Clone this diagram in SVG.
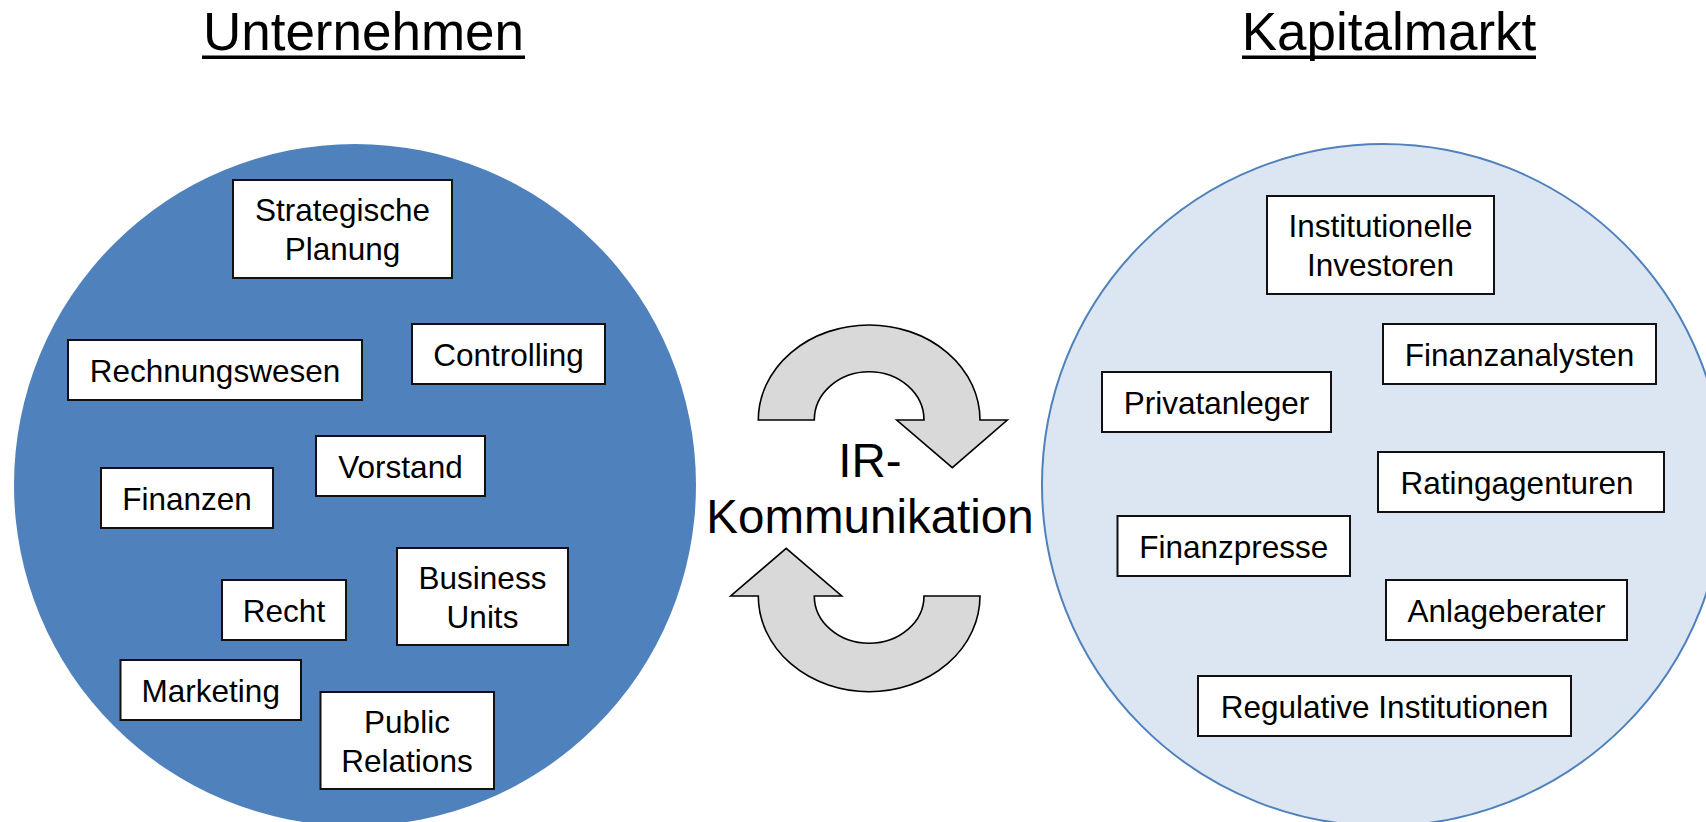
<svg xmlns="http://www.w3.org/2000/svg" width="1706" height="822" viewBox="0 0 1706 822">
  <style>
    text { font-family: "Liberation Sans", Arial, sans-serif; fill: #000; }
    .title { font-size: 53px; text-anchor: middle; }
    .box rect { fill: #fff; stroke: #111; stroke-width: 2; }
    .box text { font-size: 31.5px; text-anchor: middle; }
    .center { font-size: 47.5px; text-anchor: middle; }
    .cycle { fill: #D9D9D9; stroke: #000; stroke-width: 1.6; stroke-linejoin: miter; }
  </style>

  <!-- Headings -->
  <g id="title-unternehmen">
    <text class="title" x="363.5" y="50">Unternehmen</text>
    <rect x="202" y="55.5" width="323" height="3.5" fill="#000"/>
  </g>
  <g id="title-kapitalmarkt">
    <text class="title" x="1389" y="50">Kapitalmarkt</text>
    <rect x="1242" y="55.5" width="294" height="3.5" fill="#000"/>
  </g>

  <!-- Two spheres -->
  <g id="sphere-unternehmen">
    <circle cx="355" cy="485" r="341" fill="#4F81BD"/>
  </g>
  <g id="sphere-kapitalmarkt">
    <circle cx="1383" cy="485" r="341" fill="#DCE6F2" stroke="#4F81BD" stroke-width="2"/>
  </g>

  <!-- Circular exchange arrows -->
  <g id="connectors">
    <path class="cycle" d="M 758.3 420 A 110.8 95 0 0 1 980 420 L 1007.3 420 L 952.3 467.7 L 896.7 420 L 924 420 A 54.8 48.3 0 0 0 814.3 420 Z"/>
    <path class="cycle" d="M 980 596 A 110.8 95.7 0 0 1 758.3 596 L 730.7 596 L 786.2 548.3 L 841.7 596 L 814.3 596 A 54.8 47.3 0 0 0 924 596 Z"/>
  </g>

  <g id="label-ir">
    <text class="center" x="870" y="476.7">IR-</text>
    <text class="center" x="870" y="533.3">Kommunikation</text>
  </g>

  <!-- Company functions -->
  <g id="strategische-planung" class="box">
    <rect x="233" y="180" width="219" height="98"/>
    <text x="342.5" y="220.5">Strategische</text>
    <text x="342.5" y="259.5">Planung</text>
  </g>
  <g id="rechnungswesen" class="box">
    <rect x="68" y="340" width="294" height="60"/>
    <text x="215" y="381.5">Rechnungswesen</text>
  </g>
  <g id="controlling" class="box">
    <rect x="412" y="324" width="193" height="60"/>
    <text x="508.5" y="365.5">Controlling</text>
  </g>
  <g id="vorstand" class="box">
    <rect x="316" y="436" width="169" height="60"/>
    <text x="400.5" y="477.5">Vorstand</text>
  </g>
  <g id="finanzen" class="box">
    <rect x="101" y="468" width="172" height="60"/>
    <text x="187" y="509.5">Finanzen</text>
  </g>
  <g id="recht" class="box">
    <rect x="222" y="580" width="124" height="60"/>
    <text x="284" y="621.5">Recht</text>
  </g>
  <g id="business-units" class="box">
    <rect x="397" y="548" width="171" height="97"/>
    <text x="482.5" y="588.5">Business</text>
    <text x="482.5" y="627.5">Units</text>
  </g>
  <g id="marketing" class="box">
    <rect x="120.5" y="660" width="180.5" height="60"/>
    <text x="210.75" y="701.5">Marketing</text>
  </g>
  <g id="public-relations" class="box">
    <rect x="320.5" y="692" width="173.5" height="97"/>
    <text x="407" y="732.5">Public</text>
    <text x="407" y="771.5">Relations</text>
  </g>

  <!-- Capital market participants -->
  <g id="institutionelle-investoren" class="box">
    <rect x="1267" y="196" width="227" height="98"/>
    <text x="1380.5" y="237">Institutionelle</text>
    <text x="1380.5" y="276">Investoren</text>
  </g>
  <g id="finanzanalysten" class="box">
    <rect x="1383" y="324" width="273" height="60"/>
    <text x="1519.5" y="365.5">Finanzanalysten</text>
  </g>
  <g id="privatanleger" class="box">
    <rect x="1102" y="372" width="229" height="60"/>
    <text x="1216.5" y="413.5">Privatanleger</text>
  </g>
  <g id="ratingagenturen" class="box">
    <rect x="1378" y="452" width="286" height="60"/>
    <text x="1517" y="493.5">Ratingagenturen</text>
  </g>
  <g id="finanzpresse" class="box">
    <rect x="1117.5" y="516" width="232.5" height="60"/>
    <text x="1233.75" y="557.5">Finanzpresse</text>
  </g>
  <g id="anlageberater" class="box">
    <rect x="1386" y="580" width="241" height="60"/>
    <text x="1506.5" y="621.5">Anlageberater</text>
  </g>
  <g id="regulative-institutionen" class="box">
    <rect x="1198" y="676" width="373" height="60"/>
    <text x="1384.5" y="717.5">Regulative Institutionen</text>
  </g>
</svg>
